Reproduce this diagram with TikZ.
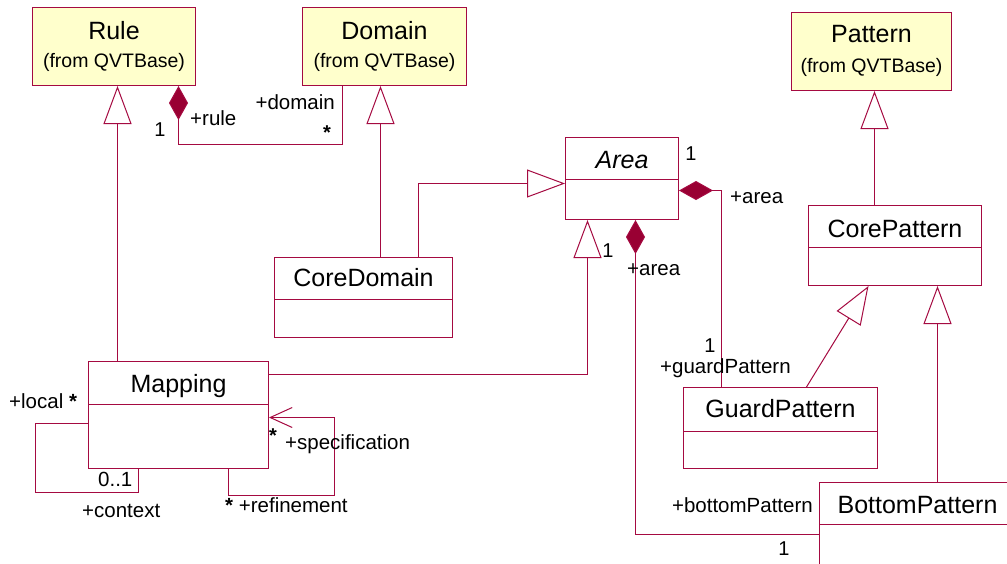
\documentclass[tikz,border=0pt]{standalone}
\usepackage{fontspec}
\setmainfont{Liberation Sans}
\usetikzlibrary{arrows.meta}
\definecolor{umlred}{RGB}{165,10,65}
\definecolor{umlfill}{RGB}{153,0,51}
\definecolor{extfill}{RGB}{255,255,204}
\tikzset{
 cls/.style={draw=umlred, line width=1pt, fill=white, rectangle, anchor=north west, inner sep=0pt},
 ext/.style={cls, fill=extfill},
 cname/.style={anchor=base, inner sep=0pt, font=\fontsize{25}{30}\selectfont},
 csub/.style={anchor=base, inner sep=0pt, font=\fontsize{19.5}{23}\selectfont},
 lbl/.style={anchor=base west, inner sep=0pt, font=\fontsize{20.5}{24}\selectfont},
 lble/.style={lbl, anchor=base east},
 mult/.style={anchor=base, inner sep=0pt, font=\fontsize{20}{24}\selectfont},
 conn/.style={draw=umlred, line width=1pt},
 gen/.style={conn, -{Triangle[open,length=38pt,width=28pt]}},
 comp/.style={conn, -{Diamond[length=34pt,width=19pt,fill=umlfill]}},
 nav/.style={conn, -{Straight Barb[length=22pt,width=20pt]}},
 divider/.style={draw=umlred, line width=1pt},
}
\begin{document}
\begin{tikzpicture}[x=1pt,y=-1pt]
\useasboundingbox (0,0) rectangle (1007,563);
\fill[white] (0,0) rectangle (1007,563);

% external classes
\node[ext, minimum width=163pt, minimum height=78pt] (rule) at (32,7) {};
\node[cname] (rulet) at ([yshift=-32pt]rule.north) {Rule};
\node[csub] (rules) at ([yshift=-60pt]rule.north) {(from QVTBase)};

\node[ext, minimum width=164pt, minimum height=78pt] (domain) at (302,7) {};
\node[cname] (domaint) at ([yshift=-32pt]domain.north) {Domain};
\node[csub] (domains) at ([yshift=-60pt]domain.north) {(from QVTBase)};

\node[ext, minimum width=160pt, minimum height=78pt] (pattern) at (791,12) {};
\node[cname] (patternt) at ([yshift=-30pt]pattern.north) {Pattern};
\node[csub] (patterns) at ([yshift=-60pt]pattern.north) {(from QVTBase)};

% classes
\node[cls, minimum width=113pt, minimum height=82pt] (area) at (565,137) {};
\node[cname, font=\fontsize{25}{30}\selectfont\itshape] (areat) at ([yshift=-31pt]area.north) {Area};
\draw[divider] ([yshift=-42pt]area.north west) -- ([yshift=-42pt]area.north east);

\node[cls, minimum width=178pt, minimum height=80pt] (coredomain) at (274,257) {};
\node[cname] (coredomaint) at ([yshift=-29pt]coredomain.north) {CoreDomain};
\draw[divider] ([yshift=-42pt]coredomain.north west) -- ([yshift=-42pt]coredomain.north east);

\node[cls, minimum width=180pt, minimum height=107pt] (mapping) at (88,361) {};
\node[cname] (mappingt) at ([yshift=-31pt]mapping.north) {Mapping};
\draw[divider] ([yshift=-43pt]mapping.north west) -- ([yshift=-43pt]mapping.north east);

\node[cls, minimum width=173pt, minimum height=80pt] (corepattern) at (808,205) {};
\node[cname] (corepatternt) at ([yshift=-32pt]corepattern.north) {CorePattern};
\draw[divider] ([yshift=-42pt]corepattern.north west) -- ([yshift=-42pt]corepattern.north east);

\node[cls, minimum width=194pt, minimum height=81pt] (guardpattern) at (683,387) {};
\node[cname] (guardpatternt) at ([yshift=-30pt]guardpattern.north) {GuardPattern};
\draw[divider] ([yshift=-44pt]guardpattern.north west) -- ([yshift=-44pt]guardpattern.north east);

\node[cls, minimum width=196pt, minimum height=100pt] (bottompattern) at (819,482) {};
\node[cname] (bottompatternt) at ([yshift=-31pt]bottompattern.north) {BottomPattern};
\draw[divider] ([yshift=-42pt]bottompattern.north west) -- ([yshift=-42pt]bottompattern.north east);

% generalizations
\draw[gen] ([xshift=-61pt]mapping.north) -- ([xshift=3.5pt]rule.south);
\draw[gen] ([xshift=17pt]coredomain.north) -- ([xshift=-4pt]domain.south);
\draw[gen] ([xshift=55pt]coredomain.north) |- ([yshift=-5pt]area.west);
\draw[gen] ([yshift=40.5pt]mapping.east) -| ([xshift=-34.5pt]area.south);
\draw[gen] ([xshift=-20.5pt]corepattern.north) -- ([xshift=3pt]pattern.south);
\draw[gen] ([xshift=26pt]guardpattern.north) -- ([xshift=-26.5pt]corepattern.south);
\draw[gen] ([xshift=20pt]bottompattern.north) -- ([xshift=42.5pt]corepattern.south);

% compositions
\draw[comp] ([xshift=-42pt]domain.south) -- ++(0,58) -| ([xshift=64.5pt]rule.south);
\draw[comp] ([xshift=-59pt]guardpattern.north) |- ([yshift=-12pt]area.east);
\draw[comp] ([yshift=-2pt]bottompattern.west) -| ([xshift=13.5pt]area.south);

% self associations of Mapping
\draw[conn] ([yshift=-8.5pt]mapping.west) -- ++(-53,0) -- ++(0,69) -| ([xshift=-40pt]mapping.south);
\draw[nav] ([xshift=50pt]mapping.south) -- ++(0,26) -- ++(106,0) |- ([yshift=-2.5pt]mapping.east);

% labels
\node[mult] (m1) at (160,136) {1};
\node[lbl] (l1) at (190,125) {+rule};
\node[lble] (l2) at (335,109) {+domain};
\node[mult] (m2) at (327,139) {\textbf{*}};

\node[mult] (m3) at (691,160) {1};
\node[lbl] (l3) at (730,203) {+area};
\node[mult] (m4) at (608,257) {1};
\node[lbl] (l4) at (627,275) {+area};

\node[mult] (m5) at (710,352) {1};
\node[lbl] (l5) at (660,373) {+guardPattern};
\node[lble] (l6) at (813,512) {+bottomPattern};
\node[mult] (m6) at (784,555) {1};

\node[lbl] (l7) at (9,408) {+local \textbf{*}};
\node[lbl] (l8) at (98,486) {0..1};
\node[lbl] (l9) at (82,517) {+context};
\node[mult] (m7) at (273,442) {\textbf{*}};
\node[lbl] (l10) at (285,449) {+specification};
\node[lbl] (l11) at (225,512) {\textbf{*} +refinement};
\end{tikzpicture}
\end{document}
